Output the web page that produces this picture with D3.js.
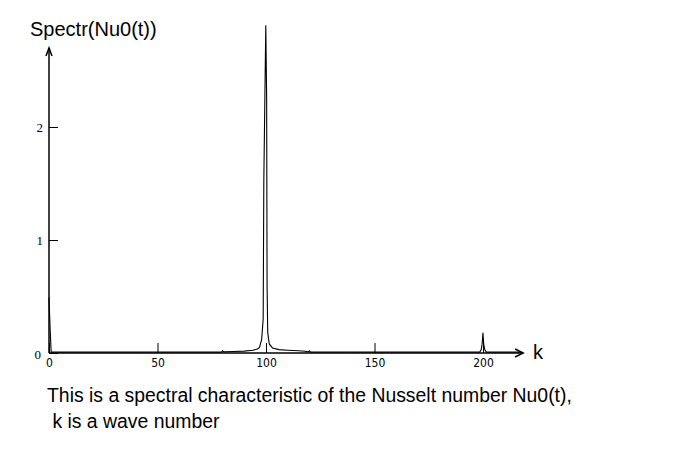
<!DOCTYPE html>
<html>
<head>
<meta charset="utf-8">
<script src="https://cdn.jsdelivr.net/npm/d3@7"></script>
<style>
  body { margin: 0; background: #fff; }
  svg { display: block; }
</style>
</head>
<body>
<div id="chart"></div>
<script>
// wave numbers and spectral values
var kVals = [0, 0.5, 1, 5, 20, 40, 60, 75, 79.5, 80, 80.5, 85, 90, 94, 96, 97, 98, 98.7, 99, 99.9, 100.3, 100.5, 100.8, 101.5, 103, 106, 110, 115, 118, 119.5, 120, 120.5, 130, 150, 180, 195, 198.5, 199.2, 199.6, 200, 200.3, 200.8, 201.5, 205, 215, 218];
var specVals = [0.49, 0.22, 0.008, 0.008, 0.008, 0.008, 0.008, 0.008, 0.008, 0.02, 0.01, 0.013, 0.017, 0.024, 0.035, 0.05, 0.12, 0.3, 1.53, 2.9, 2.25, 0.6, 0.18, 0.08, 0.045, 0.03, 0.025, 0.02, 0.015, 0.01, 0.02, 0.008, 0.008, 0.008, 0.008, 0.008, 0.008, 0.03, 0.08, 0.18, 0.08, 0.03, 0.008, 0.008, 0.008, 0.008];

var xTicks = [0, 50, 100, 150, 200];
var yTicks = [0, 1, 2];

var width = 680, height = 459;

var svg = d3.select("#chart").append("svg")
  .attr("width", width)
  .attr("height", height);

var x = d3.scaleLinear().domain([0, 200]).range([49, 483]);
var y = d3.scaleLinear().domain([0, 2]).range([353, 127]);

var xEnd = x(218.5), yTop = y(2.7);

// x axis
var gx = svg.append("g")
  .attr("transform", "translate(0," + y(0) + ")")
  .call(d3.axisBottom(x).tickValues(xTicks).tickFormat(d3.format("d"))
    .tickSizeInner(-10).tickSizeOuter(0).tickPadding(5));
gx.select(".domain").remove();
gx.selectAll(".tick line").attr("stroke", "#000");
gx.selectAll(".tick text")
  .attr("font-family", "'DejaVu Sans Condensed', 'Liberation Sans', sans-serif")
  .attr("font-size", 12)
  .attr("fill", "#000");

// y axis
var gy = svg.append("g")
  .attr("transform", "translate(" + x(0) + ",0)")
  .call(d3.axisLeft(y).tickValues(yTicks).tickFormat(d3.format("d"))
    .tickSizeInner(-9).tickSizeOuter(0).tickPadding(6));
gy.select(".domain").remove();
gy.selectAll(".tick line").attr("stroke", "#000");
gy.selectAll(".tick text")
  .attr("font-family", "'Liberation Serif', serif")
  .attr("font-size", 13)
  .attr("fill", "#000");
gy.selectAll(".tick text").filter(function (d) { return d === 0; })
  .attr("dy", "0.4em").attr("x", -8);

// axis lines with arrows
svg.append("line")
  .attr("x1", x(0)).attr("y1", y(0)).attr("x2", xEnd).attr("y2", y(0))
  .attr("stroke", "#000").attr("stroke-width", 1.5);
svg.append("path")
  .attr("d", "M" + (xEnd - 8) + "," + (y(0) - 4) + "L" + xEnd + "," + y(0) + "L" + (xEnd - 8) + "," + (y(0) + 4))
  .attr("fill", "none").attr("stroke", "#000").attr("stroke-width", 1.5);

svg.append("line")
  .attr("x1", x(0)).attr("y1", y(0)).attr("x2", x(0)).attr("y2", yTop)
  .attr("stroke", "#000").attr("stroke-width", 1.5);
svg.append("path")
  .attr("d", "M" + (x(0) - 3) + "," + (yTop + 8) + "L" + x(0) + "," + yTop + "L" + (x(0) + 3) + "," + (yTop + 8))
  .attr("fill", "none").attr("stroke", "#000").attr("stroke-width", 1.5);

// spectrum curve
var pts = kVals.map(function (k, i) { return [k, specVals[i]]; });
var line = d3.line()
  .x(function (d) { return x(d[0]); })
  .y(function (d) { return y(d[1]); });

svg.append("path")
  .datum(pts)
  .attr("d", line)
  .attr("fill", "none")
  .attr("stroke", "#000")
  .attr("stroke-width", 1.1);

// labels
svg.append("text")
  .attr("x", 30).attr("y", 36)
  .attr("font-family", "'Liberation Sans', Arial, sans-serif")
  .attr("font-size", 20)
  .text("Spectr(Nu0(t))");

svg.append("text")
  .attr("x", 533).attr("y", 359)
  .attr("font-family", "'Liberation Sans', Arial, sans-serif")
  .attr("font-size", 20)
  .text("k");

svg.append("text")
  .attr("x", 47).attr("y", 402)
  .attr("font-family", "'Liberation Sans', Arial, sans-serif")
  .attr("font-size", 19.4)
  .text("This is a spectral characteristic of the Nusselt number Nu0(t),");

svg.append("text")
  .attr("x", 47).attr("y", 428)
  .attr("font-family", "'Liberation Sans', Arial, sans-serif")
  .attr("font-size", 19.4)
  .attr("xml:space", "preserve")
  .text(" k is a wave number");
</script>
</body>
</html>
